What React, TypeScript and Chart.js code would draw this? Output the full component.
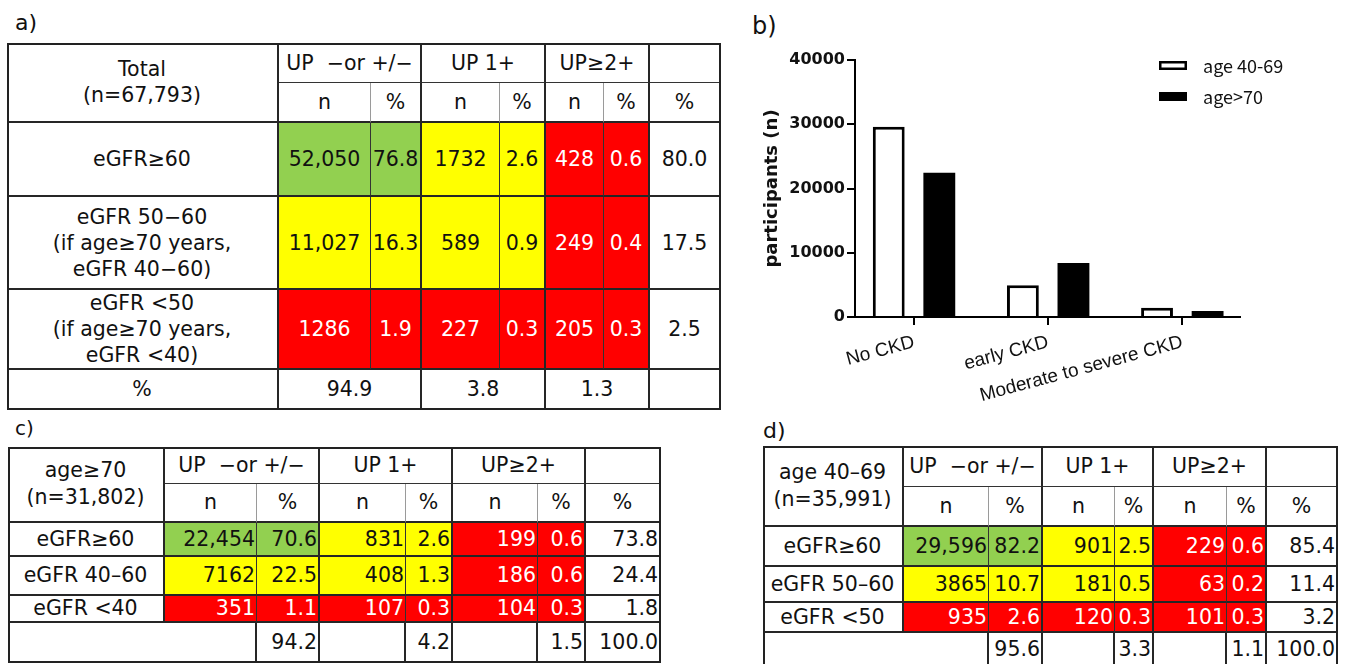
import React, { useEffect, useRef } from 'react';
import { Chart, registerables } from 'chart.js';

Chart.register(...registerables);

// ---------- b) bar chart data ----------
const ckdCategories = ['No CKD', 'early CKD', 'Moderate to severe CKD'];
const ckdPositions = [0, 1, 2];
const age4069Counts = [29596, 4947, 1448];
const age70Counts = [22454, 8401, 947];
const legendLabels = ['age 40-69', 'age>70'];
const yTickValues = [0, 10000, 20000, 30000, 40000];

// ---------- table headers ----------
const upGroups = ['UP  −or +/−', 'UP 1+', 'UP≥2+'];
const subHeads = ['n', '%', 'n', '%', 'n', '%', '%'];

// ---------- a) total ----------
const totalCorner = 'Total\n(n=67,793)';
const totalRowLabels = [
  'eGFR≥60',
  'eGFR 50−60\n(if age≥70 years,\neGFR 40−60)',
  'eGFR <50\n(if age≥70 years,\neGFR <40)',
];
const totalValues = [
  ['52,050', '76.8', '1732', '2.6', '428', '0.6', '80.0'],
  ['11,027', '16.3', '589', '0.9', '249', '0.4', '17.5'],
  ['1286', '1.9', '227', '0.3', '205', '0.3', '2.5'],
];
const totalColPercents = ['94.9', '3.8', '1.3'];

// ---------- c) age >= 70 ----------
const elderlyCorner = 'age≥70\n(n=31,802)';
const elderlyRowLabels = ['eGFR≥60', 'eGFR 40–60', 'eGFR <40'];
const elderlyValues = [
  ['22,454', '70.6', '831', '2.6', '199', '0.6', '73.8'],
  ['7162', '22.5', '408', '1.3', '186', '0.6', '24.4'],
  ['351', '1.1', '107', '0.3', '104', '0.3', '1.8'],
];
const elderlyColPercents = ['94.2', '4.2', '1.5', '100.0'];

// ---------- d) age 40-69 ----------
const youngerCorner = 'age 40–69\n(n=35,991)';
const youngerRowLabels = ['eGFR≥60', 'eGFR 50–60', 'eGFR <50'];
const youngerValues = [
  ['29,596', '82.2', '901', '2.5', '229', '0.6', '85.4'],
  ['3865', '10.7', '181', '0.5', '63', '0.2', '11.4'],
  ['935', '2.6', '120', '0.3', '101', '0.3', '3.2'],
];
const youngerColPercents = ['95.6', '3.3', '1.1', '100.0'];

// ---------- styles ----------
const FONT = '"DejaVu Sans", Verdana, sans-serif';
const GREEN = '#92D050';
const YELLOW = '#FFFF00';
const RED = '#FF0000';
const riskFill = [
  [GREEN, GREEN, YELLOW, YELLOW, RED, RED],
  [YELLOW, YELLOW, YELLOW, YELLOW, RED, RED],
  [RED, RED, RED, RED, RED, RED],
];
const THICK = '2px solid #262626';
const THIN_DARK = '1px solid #333';
const THIN_GRAY = '1px solid #9a9a9a';

type Cell = {
  r: number;
  c: number;
  rs?: number;
  cs?: number;
  text: string;
  bg?: string;
  color?: string;
  align?: 'center' | 'right';
  br?: string;
  bb?: string;
};

function buildCells(
  corner: string,
  rowLabels: string[],
  values: string[][],
  totals: string[],
  mode: 'grouped' | 'split',
  align: 'center' | 'right'
): Cell[] {
  const cells: Cell[] = [];
  cells.push({ r: 0, c: 0, rs: 2, text: corner, br: THICK, bb: THICK });
  upGroups.forEach((g, i) => cells.push({ r: 0, c: 1 + 2 * i, cs: 2, text: g, br: THICK, bb: THIN_DARK }));
  cells.push({ r: 0, c: 7, text: '', br: THICK, bb: THIN_DARK });
  subHeads.forEach((s, i) => {
    const c = i + 1;
    cells.push({ r: 1, c, text: s, br: c % 2 === 1 && c < 7 ? THIN_GRAY : THICK, bb: THICK });
  });
  rowLabels.forEach((label, i) => {
    const r = 2 + i;
    cells.push({ r, c: 0, text: label, br: THICK, bb: THICK });
    values[i].forEach((v, j) => {
      const c = j + 1;
      const bg = j < 6 ? riskFill[i][j] : '#fff';
      cells.push({
        r,
        c,
        text: v,
        bg,
        color: bg === RED ? '#fff' : '#111',
        align,
        br: c % 2 === 1 && c < 7 ? THIN_DARK : THICK,
        bb: THICK,
      });
    });
  });
  const r = 5;
  if (mode === 'grouped') {
    cells.push({ r, c: 0, text: '%', br: THICK, bb: THICK });
    totals.forEach((t, i) => cells.push({ r, c: 1 + 2 * i, cs: 2, text: t, br: THICK, bb: THICK }));
    cells.push({ r, c: 7, text: '', br: THICK, bb: THICK });
  } else {
    cells.push({ r, c: 0, cs: 2, text: '', br: THICK, bb: THICK });
    cells.push({ r, c: 2, text: totals[0], align, br: THICK, bb: THICK });
    cells.push({ r, c: 3, text: '', br: THICK, bb: THICK });
    cells.push({ r, c: 4, text: totals[1], align, br: THICK, bb: THICK });
    cells.push({ r, c: 5, text: '', br: THICK, bb: THICK });
    cells.push({ r, c: 6, text: totals[2], align, br: THICK, bb: THICK });
    cells.push({ r, c: 7, text: totals[3], align, br: THICK, bb: THICK });
  }
  return cells;
}

function Grid(props: { xs: number[]; ys: number[]; cells: Cell[]; fontSize: number; lineHeight: number }) {
  const { xs, ys, cells, fontSize, lineHeight } = props;
  const W = xs[xs.length - 1] - xs[0];
  const H = ys[ys.length - 1] - ys[0];
  return (
    <div style={{ position: 'absolute', left: xs[0], top: ys[0], width: W, height: H }}>
      {cells.map((cell, i) => {
        const rs = cell.rs ?? 1;
        const cs = cell.cs ?? 1;
        const left = xs[cell.c] - xs[0];
        const top = ys[cell.r] - ys[0];
        const w = xs[cell.c + cs] - xs[cell.c];
        const h = ys[cell.r + rs] - ys[cell.r];
        const right = cell.align === 'right';
        return (
          <div
            key={i}
            style={{
              position: 'absolute',
              left,
              top,
              width: w,
              height: h,
              boxSizing: 'border-box',
              background: cell.bg || '#fff',
              color: cell.color || '#111',
              borderRight: cell.br,
              borderBottom: cell.bb,
              display: 'flex',
              alignItems: 'center',
              justifyContent: right ? 'flex-end' : 'center',
              textAlign: 'center',
              paddingRight: right ? 1 : 0,
              whiteSpace: 'pre',
              fontSize,
              lineHeight: lineHeight + 'px',
              overflow: 'hidden',
            }}
          >
            {cell.text}
          </div>
        );
      })}
      <div
        style={{
          position: 'absolute',
          left: 0,
          top: 0,
          width: W,
          height: H,
          boxSizing: 'border-box',
          border: '2px solid #222',
          pointerEvents: 'none',
        }}
      />
    </div>
  );
}

const insideLegend = {
  id: 'insideLegend',
  afterDraw(chart: any) {
    const { ctx, chartArea } = chart;
    const x0 = chartArea.right - 81;
    chart.data.datasets.forEach((ds: any, i: number) => {
      const y = chartArea.top + 1 + i * 31;
      ctx.save();
      ctx.fillStyle = ds.backgroundColor;
      ctx.fillRect(x0, y, 28, 9);
      if (ds.borderWidth) {
        ctx.lineWidth = 2.5;
        ctx.strokeStyle = ds.borderColor;
        ctx.strokeRect(x0 + 1.25, y + 1.25, 25.5, 6.5);
      }
      ctx.fillStyle = '#111';
      ctx.font = '18px "Noto Sans CJK JP", "DejaVu Sans", sans-serif';
      ctx.textBaseline = 'middle';
      ctx.textAlign = 'left';
      ctx.fillText(ds.label, x0 + 44, y + 5);
      ctx.restore();
    });
  },
};

function BarChart() {
  const ref = useRef<HTMLCanvasElement>(null);
  useEffect(() => {
    const chart = new Chart(ref.current as HTMLCanvasElement, {
      type: 'bar',
      data: {
        datasets: [
          {
            label: legendLabels[0],
            data: ckdPositions.map((x, i) => ({ x, y: age4069Counts[i] })),
            backgroundColor: '#ffffff',
            borderColor: '#000000',
            borderWidth: 3,
            categoryPercentage: 0.754,
            barPercentage: 0.63,
          },
          {
            label: legendLabels[1],
            data: ckdPositions.map((x, i) => ({ x, y: age70Counts[i] })),
            backgroundColor: '#000000',
            borderColor: '#000000',
            borderWidth: 0,
            categoryPercentage: 0.754,
            barPercentage: 0.63,
          },
        ],
      } as any,
      options: {
        animation: false,
        responsive: false,
        maintainAspectRatio: false,
        devicePixelRatio: 1,
        layout: { padding: { left: 0, top: 30, right: 100, bottom: 0 } },
        plugins: { legend: { display: false }, tooltip: { enabled: false }, title: { display: false } },
        scales: {
          x: {
            type: 'linear',
            min: -0.44,
            max: 2.43,
            offset: false,
            afterBuildTicks: (scale: any) => {
              scale.ticks = ckdPositions.map((v) => ({ value: v }));
            },
            afterFit: (scale: any) => {
              scale.height = 103;
            },
            grid: {
              display: true,
              offset: false,
              drawOnChartArea: false,
              drawTicks: true,
              tickLength: 8,
              lineWidth: 2,
              color: '#000',
            },
            border: { display: true, color: '#000', width: 2 },
            ticks: {
              autoSkip: false,
              minRotation: 15,
              maxRotation: 15,
              padding: 6,
              color: '#111',
              font: { family: '"Liberation Sans", Arial, sans-serif', size: 19 },
              callback: (value: any) => ckdCategories[Math.round(Number(value))] ?? '',
            },
          },
          y: {
            type: 'linear',
            min: 0,
            max: 40000,
            afterBuildTicks: (scale: any) => {
              scale.ticks = yTickValues.map((v) => ({ value: v }));
            },
            afterFit: (scale: any) => {
              scale.width = 125;
            },
            grid: {
              display: true,
              drawOnChartArea: false,
              drawTicks: true,
              tickLength: 8,
              lineWidth: 2,
              color: '#000',
            },
            border: { display: true, color: '#000', width: 2 },
            ticks: {
              padding: 2,
              color: '#111',
              font: { family: FONT, size: 16, weight: 'bold' },
              callback: (value: any) => String(value),
            },
            title: {
              display: true,
              text: 'participants (n)',
              color: '#111',
              font: { family: FONT, size: 18, weight: 'bold' },
              padding: { top: 32, bottom: 0 },
            },
          },
        },
      } as any,
      plugins: [insideLegend],
    });
    return () => chart.destroy();
  }, []);
  return (
    <canvas
      ref={ref}
      width={610}
      height={390}
      style={{ position: 'absolute', left: 730, top: 30, width: 610, height: 390 }}
    />
  );
}

export default function App() {
  const cellsA = buildCells(totalCorner, totalRowLabels, totalValues, totalColPercents, 'grouped', 'center');
  const cellsC = buildCells(elderlyCorner, elderlyRowLabels, elderlyValues, elderlyColPercents, 'split', 'right');
  const cellsD = buildCells(youngerCorner, youngerRowLabels, youngerValues, youngerColPercents, 'split', 'right');
  return (
    <div
      style={{
        position: 'absolute',
        left: 0,
        top: 0,
        width: 1349,
        height: 664,
        overflow: 'hidden',
        background: '#fff',
        fontFamily: FONT,
        color: '#111',
      }}
    >
      <div style={{ position: 'absolute', left: 15, top: 12, fontSize: 22, lineHeight: 1 }}>a)</div>
      <div style={{ position: 'absolute', left: 752, top: 14, fontSize: 24, lineHeight: 1 }}>b)</div>
      <div style={{ position: 'absolute', left: 15, top: 418, fontSize: 20, lineHeight: 1 }}>c)</div>
      <div style={{ position: 'absolute', left: 763, top: 420, fontSize: 22, lineHeight: 1 }}>d)</div>

      <Grid xs={[7, 279, 371, 422, 500, 546, 604, 650, 721]} ys={[43, 83, 123, 197, 290, 370, 410]} cells={cellsA} fontSize={20.5} lineHeight={26} />
      <Grid xs={[8, 165, 257, 320, 406, 453, 538, 586, 661]} ys={[447, 484, 523, 557, 596, 623, 663]} cells={cellsC} fontSize={20.5} lineHeight={27} />
      <Grid xs={[763, 904, 989, 1043, 1115, 1154, 1227, 1267, 1338]} ys={[446, 487, 527, 567, 603, 633, 667]} cells={cellsD} fontSize={20.5} lineHeight={27} />

      <BarChart />
    </div>
  );
}
